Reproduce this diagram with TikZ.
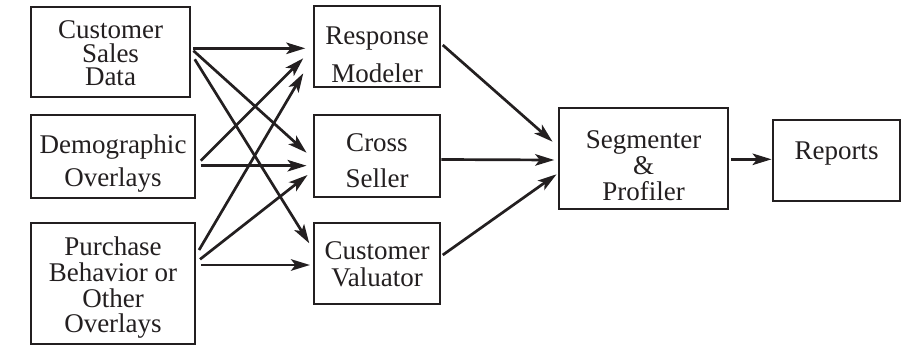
\documentclass[tikz,border=0pt]{standalone}
\usepackage{fontspec}
\setmainfont{Liberation Serif}
\usetikzlibrary{arrows.meta}
\definecolor{ink}{HTML}{231F20}
\begin{document}
\begin{tikzpicture}[x=1pt,y=-1pt,
  box/.style={draw=ink, line width=1.5pt, inner sep=0pt},
  txt/.style={align=center, inner sep=0pt, text=ink, anchor=north},
  arr/.style={draw=ink, line width=2.7pt, -{Stealth[length=19pt,width=11.5pt,inset=4.5pt]}}]
\useasboundingbox[fill=white] (0,0) rectangle (911,345);
\lineskiplimit=-100pt
% boxes
\node[box, minimum width=159pt, minimum height=90pt] (csd) at (110.5,52) {};
\node[box, minimum width=164pt, minimum height=83pt] (dem) at (113,156.5) {};
\node[box, minimum width=164pt, minimum height=121pt] (pur) at (113,283.5) {};
\node[box, minimum width=126pt, minimum height=81pt] (rm) at (377,46.5) {};
\node[box, minimum width=126pt, minimum height=82pt] (cs) at (377,156) {};
\node[box, minimum width=126pt, minimum height=81pt] (cv) at (377,263.5) {};
\node[box, minimum width=169pt, minimum height=101pt] (seg) at (643.5,158.5) {};
\node[box, minimum width=127pt, minimum height=81pt] (rep) at (836.5,160.5) {};
% texts
\node[txt, font=\fontsize{27}{23.5}\selectfont] (csdt) at (110.5,20.5) {Customer\\Sales\\Data};
\node[txt, font=\fontsize{27}{33.3}\selectfont] (demt) at (113,134.5) {Demographic\\Overlays};
\node[txt, font=\fontsize{27}{25.8}\selectfont] (purt) at (113,236.5) {Purchase\\Behavior or\\Other\\Overlays};
\node[txt, font=\fontsize{27}{37.5}\selectfont] (rmt) at (377,26.8) {Response\\Modeler};
\node[txt, font=\fontsize{27}{36.7}\selectfont] (cst) at (377,133) {Cross\\Seller};
\node[txt, font=\fontsize{27}{26.7}\selectfont] (cvt) at (377,241.5) {Customer\\Valuator};
\node[txt, font=\fontsize{27}{26}\selectfont] (segt) at (643.5,130) {Segmenter\\\&\\Profiler};
\node[txt, font=\fontsize{27}{26}\selectfont] (rept) at (836.5,141.5) {Reports};
% connectors, left column to middle column
\draw[arr] ([shift={(2.7,-3.7)}]csd.east) -- ([shift={(-8,1.8)}]rm.west);
\draw[arr] ([shift={(2.7,-1.3)}]csd.east) -- ([shift={(-6.7,-3.3)}]cs.west);
\draw[arr] ([shift={(4,7.3)}]csd.east) -- ([shift={(-4,-20.2)}]cv.west);
\draw[arr] ([shift={(5,4.2)}]dem.east) -- ([shift={(-10,11.8)}]rm.west);
\draw[arr] ([shift={(5,9.2)}]dem.east) -- ([shift={(-6.7,9.7)}]cs.west);
\draw[arr] ([shift={(3.3,-33.5)}]pur.east) -- ([shift={(-10,26.8)}]rm.west);
\draw[arr] ([shift={(4.3,-24.2)}]pur.east) -- ([shift={(-5.7,19)}]cs.west);
\draw[arr] ([shift={(5.7,-18.5)}]pur.east) -- ([shift={(-3.3,1.5)}]cv.west);
% middle column to segmenter
\draw[arr] ([shift={(2,-1.5)}]rm.east) -- ([shift={(-5.7,-16.8)}]seg.west);
\draw[arr] ([shift={(0.6,3.5)}]cs.east) -- ([shift={(-4,1.5)}]seg.west);
\draw[arr] ([shift={(2,-8.5)}]cv.east) -- ([shift={(-1.7,15.8)}]seg.west);
% segmenter to reports
\draw[arr] ([shift={(2.7,0.8)}]seg.east) -- ([shift={(-0.7,-1.2)}]rep.west);
\end{tikzpicture}
\end{document}
